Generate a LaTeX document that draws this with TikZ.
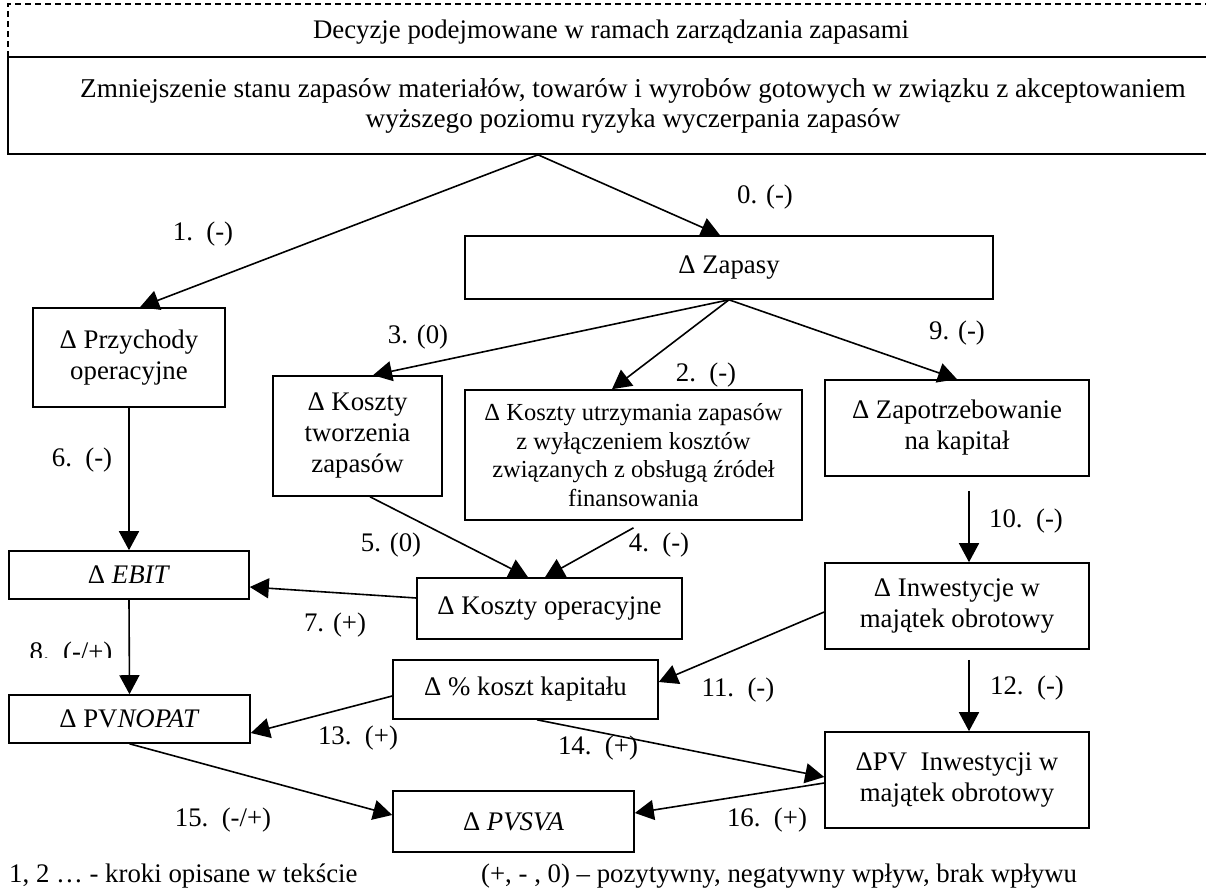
\documentclass[tikz,border=0pt]{standalone}
\usepackage{fontspec}
\setmainfont{Liberation Serif}
\usetikzlibrary{arrows.meta}
\begin{document}
\begin{tikzpicture}[x=1pt,y=-1pt,
  box/.style={draw,line width=1.6pt,inner sep=0pt,align=center,
    font=\fontsize{26.8}{31}\selectfont},
  lbl/.style={inner sep=0pt,font=\fontsize{26.8}{31}\selectfont},
  conn/.style={line width=1.6pt,-{Triangle[length=19pt,width=20pt]}},
  dashline/.style={line width=1.4pt,dash pattern=on 6pt off 4pt}
  ]
\clip (0,0) rectangle (1206,890);
\fill[white] (0,0) rectangle (1206,890);

% header frame
\node[lbl] (title) at (611,32) {Decyzje podejmowane w ramach zarządzania zapasami};
\node[box,minimum width=1250pt,minimum height=97pt,font=\fontsize{27.2}{30}\selectfont] (top) at (633,105.5)
  {Zmniejszenie stanu zapasów materiałów, towarów i wyrobów gotowych w związku z akceptowaniem\\
   wyższego poziomu ryzyka wyczerpania zapasów};
\draw[dashline] (8,57) -- (8,4) -- (1215,4);
\draw[dashline] (8,57) -- (1215,57);

% boxes
\node[box,minimum width=528pt,minimum height=63pt] (zap) at (729,267.5) {Δ Zapasy};
\node[box,minimum width=192pt,minimum height=99pt] (prz) at (129,357.5) {Δ Przychody\\operacyjne};
\node[box,minimum width=169pt,minimum height=120pt] (ktw) at (357.5,436) {Δ Koszty\\tworzenia\\zapasów};
\node[box,minimum width=337pt,minimum height=130pt,font=\fontsize{24.5}{28.5}\selectfont] (kut) at (633.5,455)
  {Δ Koszty utrzymania zapasów\\z wyłączeniem kosztów\\związanych z obsługą źródeł\\finansowania};
\node[box,minimum width=264pt,minimum height=96pt] (zkp) at (957,428) {Δ Zapotrzebowanie\\na kapitał};
\node[box,minimum width=265pt,minimum height=61pt] (kop) at (549.5,608.5) {Δ Koszty operacyjne};
\node[box,minimum width=240pt,minimum height=48pt] (ebit) at (129,575) {Δ \textit{EBIT}};
\node[box,minimum width=264pt,minimum height=86pt] (inw) at (957,606) {Δ Inwestycje w\\majątek obrotowy};
\node[box,minimum width=265pt,minimum height=59pt] (pkk) at (525.5,689.5) {Δ \% koszt kapitału};
\node[box,minimum width=241pt,minimum height=48pt] (pvn) at (129.5,719) {Δ PV\textit{NOPAT}};
\node[box,minimum width=264pt,minimum height=96pt] (pvi) at (957,780) {ΔPV\ \ Inwestycji w\\majątek obrotowy};
\node[box,minimum width=241pt,minimum height=61pt] (pvs) at (513.5,821.5) {Δ \textit{PVSVA}};

% connectors
\draw[conn] ([xshift=-95pt]top.south) -- ([xshift=-9pt]zap.north);
\draw[conn] ([xshift=-95pt]top.south) -- ([xshift=11pt]prz.north);
\draw[conn] (zap.south) -- ([xshift=15.5pt]ktw.north);
\draw[conn] (zap.south) -- ([xshift=-21.5pt]kut.north);
\draw[conn] (zap.south) -- (zkp.north);
\draw[conn] (prz.south) -- (ebit.north);
\draw[conn] ([xshift=12.5pt]ktw.south) -- ([xshift=-21.5pt]kop.north);
\draw[conn] ([yshift=-7pt]kut.south) -- ([xshift=-4.5pt]kop.north);
\draw[conn] ([yshift=10.5pt]kop.west) -- ([yshift=-12pt]ebit.east);
\draw[conn] (ebit.south) -- (pvn.north);
\draw[conn] ([xshift=12pt,yshift=-14pt]zkp.south) -- ([xshift=12pt]inw.north);
\draw[conn] ([xshift=12pt,yshift=-10pt]inw.south) -- ([xshift=12pt]pvi.north);
\draw[conn] ([yshift=-6pt]inw.west) -- ([yshift=7.5pt]pkk.east);
\draw[conn] ([yshift=-6.5pt]pkk.west) -- ([yshift=-14pt]pvn.east);
\draw[conn] ([xshift=11.5pt]pkk.south) -- ([yshift=3pt]pvi.west);
\draw[conn] ([yshift=-3pt]pvi.west) -- ([yshift=8.5pt]pvs.east);
\draw[conn] (pvn.south) -- ([yshift=6.5pt]pvs.west);

% connector labels
\node[lbl] (l0) at (765,197) {0. (-)};
\node[lbl] (l1) at (203,234) {1.\ \ (-)};
\node[lbl] (l3) at (418,337) {3. (0)};
\node[lbl] (l2) at (706,375) {2.\ \ (-)};
\node[lbl] (l9) at (957,333) {9. (-)};
\node[lbl] (l6) at (82,460) {6.\ \ (-)};
\node[lbl] (l5) at (391,545) {5. (0)};
\node[lbl] (l4) at (659,545) {4.\ \ (-)};
\node[lbl] (l10) at (1026,521) {10.\ \ (-)};
\node[lbl] (l7) at (335,625) {7. (+)};
\begin{scope}
  \clip (0,600) rectangle (125,657);
  \node[lbl,anchor=base] (l8) at (71,660) {8.\ \ (-/+)};
\end{scope}
\node[lbl] (l11) at (738,690) {11.\ \ (-)};
\node[lbl] (l12) at (1027,688) {12.\ \ (-)};
\node[lbl] (l13) at (358,738) {13.\ \ (+)};
\node[lbl] (l14) at (598,748) {14.\ \ (+)};
\node[lbl] (l15) at (223,820) {15.\ \ (-/+)};
\node[lbl] (l16) at (767,820) {16.\ \ (+)};

% legend
\node[lbl,anchor=west] (leg1) at (9,876) {1, 2 … - kroki opisane w tekście};
\node[lbl,anchor=west] (leg2) at (481,876) {(+, - , 0) – pozytywny, negatywny wpływ, brak wpływu};
\end{tikzpicture}
\end{document}
